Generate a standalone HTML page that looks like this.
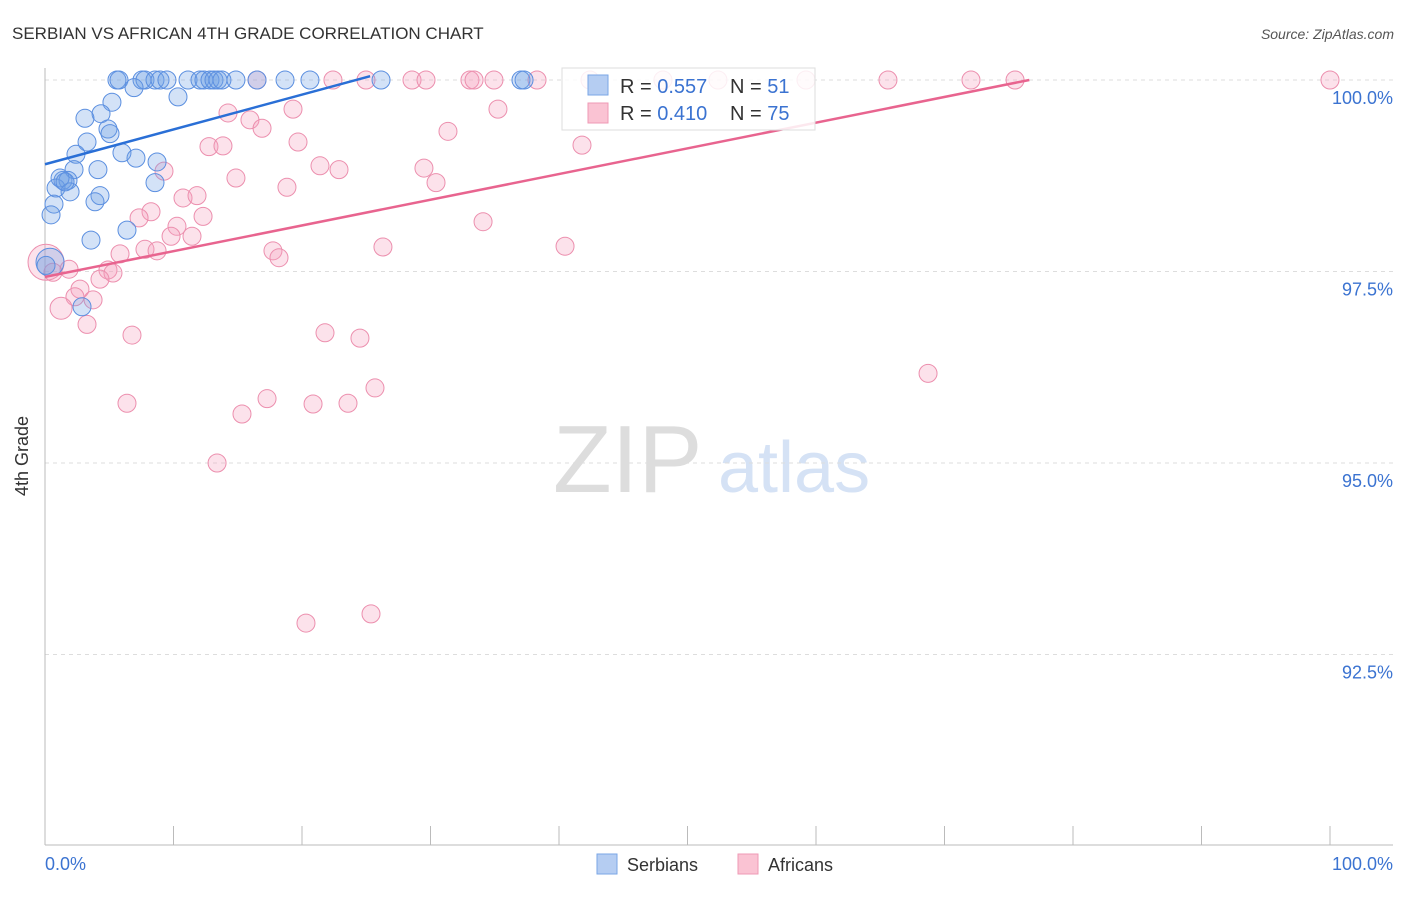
<!DOCTYPE html>
<html><head><meta charset="utf-8"><style>
body{margin:0;background:#fff;font-family:"Liberation Sans",sans-serif;}
svg text{font-family:"Liberation Sans",sans-serif;}
</style></head><body>
<svg id="chart" width="1406" height="892" xmlns="http://www.w3.org/2000/svg">
<text x="12" y="39" font-size="17" fill="#333">SERBIAN VS AFRICAN 4TH GRADE CORRELATION CHART</text>
<text x="1394" y="39" font-size="14" fill="#555" font-style="italic" text-anchor="end">Source: ZipAtlas.com</text>
<g>
<text x="553" y="492" font-size="96" fill="#ddd" font-family="Liberation Serif, serif">ZIP</text>
<text x="718" y="492" font-size="72" fill="#d5e2f5">atlas</text>
</g>
<g id="grid"></g>
<g id="axes"></g>
<g id="pts"></g>
<g id="trends"></g>
<text x="28" y="456" font-size="18" fill="#333" text-anchor="middle" transform="rotate(-90 28 456)">4th Grade</text>
<g>
<rect x="562" y="68" width="253" height="62" fill="rgba(255,255,255,0.85)" stroke="#ddd"/>
<rect x="588" y="75" width="20" height="20" fill="#b5cdf2" stroke="#7aa6e6"/>
<rect x="588" y="103" width="20" height="20" fill="#fac3d3" stroke="#ef9ab5"/>
<text x="620" y="93" font-size="20" fill="#333">R = <tspan fill="#3b73d1">0.557</tspan></text>
<text x="730" y="93" font-size="20" fill="#333">N = <tspan fill="#3b73d1"> 51</tspan></text>
<text x="620" y="120" font-size="20" fill="#333">R = <tspan fill="#3b73d1">0.410</tspan></text>
<text x="730" y="120" font-size="20" fill="#333">N = <tspan fill="#3b73d1">75</tspan></text>
</g>
<g>
<rect x="597" y="854" width="20" height="20" fill="#b5cdf2" stroke="#7aa6e6"/>
<text x="627" y="871" font-size="18" fill="#333">Serbians</text>
<rect x="738" y="854" width="20" height="20" fill="#fac3d3" stroke="#ef9ab5"/>
<text x="768" y="871" font-size="18" fill="#333">Africans</text>
</g>
</svg>
<script>
const yTicks=[100,97.5,95,92.5];
const yTickLabels=["100.0%","97.5%","95.0%","92.5%"];
const serbX=[5.6,5.76,7.55,7.78,8.56,8.95,9.49,11.13,12.06,12.37,12.84,13.15,13.46,13.77,14.86,16.5,18.68,20.62,26.15,37.04,37.28,6.93,5.21,10.35,4.36,3.11,4.9,5.06,3.27,2.41,5.99,7.08,8.72,4.12,2.26,1.4,1.79,0.86,1.95,8.56,4.28,3.89,0.7,0.47,6.38,3.58,0.39,2.88,1.17,1.56,0.08];
const serbY=[100,100,100,100,100,100,100,100,100,100,100,100,100,100,100,100,100,100,100,100,100,99.9,99.71,99.78,99.56,99.5,99.36,99.3,99.19,99.03,99.05,98.98,98.93,98.83,98.83,98.69,98.69,98.59,98.54,98.66,98.49,98.41,98.38,98.24,98.04,97.91,97.62,97.04,98.72,98.67,97.58];
const afrX=[16.5,22.41,24.98,28.56,29.65,33.07,33.39,34.94,38.29,42.41,48.09,52.37,59.22,65.6,72.06,75.49,100,14.24,15.95,19.3,16.89,12.76,13.85,19.69,31.36,35.25,41.79,9.26,14.86,21.4,22.88,29.49,30.43,18.83,10.74,11.83,8.25,7.32,12.3,34.09,10.27,9.81,11.44,7.78,8.72,5.84,26.3,17.74,18.21,40.47,0.08,1.87,4.9,5.29,4.28,0.62,2.72,2.33,3.74,1.25,3.27,6.77,21.79,24.51,25.68,17.28,6.38,20.86,23.58,15.33,13.39,20.31,25.37,68.72];
const afrY=[100,100,100,100,100,100,100,100,100,100,100,100,100,100,100,100,100,99.57,99.48,99.62,99.37,99.13,99.14,99.19,99.33,99.62,99.15,98.81,98.72,98.88,98.83,98.85,98.66,98.6,98.46,98.49,98.28,98.2,98.22,98.15,98.09,97.96,97.96,97.79,97.77,97.73,97.82,97.77,97.68,97.83,97.62,97.53,97.52,97.48,97.4,97.49,97.27,97.17,97.13,97.02,96.81,96.67,96.7,96.63,95.98,95.84,95.78,95.77,95.78,95.64,95,92.91,93.03,96.17];
const serbTrend=[[0,98.9],[25.3,100.05]];
const afrTrend=[[0,97.43],[76.6,100]];
const X=v=>45+v*12.85;
const Y=v=>80+(100-v)*76.6;
const NS="http://www.w3.org/2000/svg";
function mk(tag,attrs,parent){const e=document.createElementNS(NS,tag);for(const k in attrs)e.setAttribute(k,attrs[k]);document.getElementById(parent).appendChild(e);return e;}
yTicks.forEach((t,i)=>{
 const l=mk('line',{x1:45,x2:1393,y1:Y(t),y2:Y(t),stroke:'#ddd','stroke-dasharray':'4,4'},'grid');
 
 
 const tx=mk('text',{x:1393,y:Y(t)+24,'font-size':18,fill:'#3b73d1','text-anchor':'end'},'grid');
 tx.textContent=yTickLabels[i];
 
 
});
let a=mk('line',{x1:45,x2:45,y1:68,y2:845,stroke:'#bbb'},'axes');


a=mk('line',{x1:45,x2:1393,y1:845,y2:845,stroke:'#bbb'},'axes');


for(let i=0;i<=10;i++){
 const t=mk('line',{x1:X(i*10),x2:X(i*10),y1:826,y2:845,stroke:'#bbb'},'axes');
 
 
}
let xl=mk('text',{x:45,y:870,'font-size':18,fill:'#3b73d1'},'axes');xl.textContent='0.0%';


xl=mk('text',{x:1393,y:870,'font-size':18,fill:'#3b73d1','text-anchor':'end'},'axes');xl.textContent='100.0%';


afrX.forEach((x,i)=>{
 const big=(i===50||i===59);
 const c=mk('circle',{cx:X(x),cy:Y(afrY[i]),r:big?(i===50?18:11):9,fill:'rgba(245,160,190,0.3)',stroke:'#ec8fae','stroke-width':1},'pts');
 
 
});
serbX.forEach((x,i)=>{
 const c=mk('circle',{cx:X(x),cy:Y(serbY[i]),r:(i===46)?14:9,fill:'rgba(110,160,230,0.3)',stroke:'#5b8fe0','stroke-width':1},'pts');
 
 
});
let tl=mk('line',{x1:X(serbTrend[0][0]),y1:Y(serbTrend[0][1]),x2:X(serbTrend[1][0]),y2:Y(serbTrend[1][1]),stroke:'#2a6fd6','stroke-width':2.5},'trends');


tl=mk('line',{x1:X(afrTrend[0][0]),y1:Y(afrTrend[0][1]),x2:X(afrTrend[1][0]),y2:Y(afrTrend[1][1]),stroke:'#e8648f','stroke-width':2.5},'trends');


</script>
</body></html>
